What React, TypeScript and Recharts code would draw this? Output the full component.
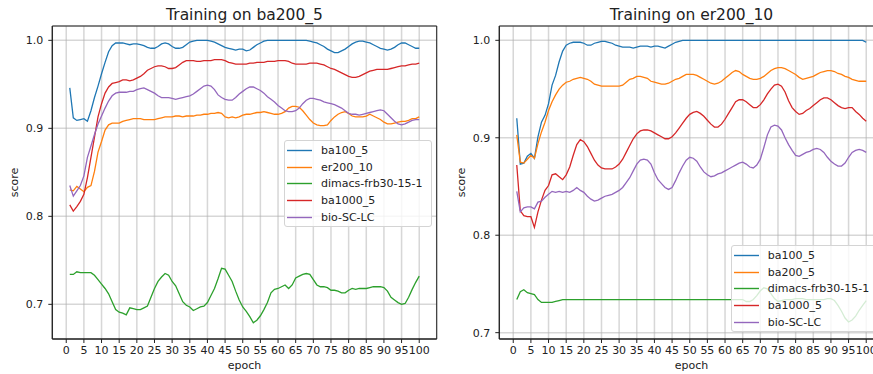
import React from "react";
import { LineChart, Line, XAxis, YAxis, CartesianGrid, Legend, ReferenceArea } from "recharts";

const epochs = Array.from({ length: 100 }, (_, i) => i + 1);
const xTicks = [0, 5, 10, 15, 20, 25, 30, 35, 40, 45, 50, 55, 60, 65, 70, 75, 80, 85, 90, 95, 100];
const yTicks = [0.7, 0.8, 0.9, 1.0];

// Training on ba200_5
const ba200Ba100 = [
  0.946, 0.912, 0.909, 0.910, 0.911, 0.908, 0.920, 0.935, 0.948, 0.962,
  0.975, 0.987, 0.994, 0.997, 0.997, 0.997, 0.996, 0.995, 0.996, 0.996,
  0.995, 0.994, 0.992, 0.991, 0.991, 0.993, 0.996, 0.997, 0.996, 0.993,
  0.991, 0.991, 0.992, 0.995, 0.998, 0.999, 1.0, 1.0, 1.0, 1.0,
  0.999, 0.998, 0.996, 0.994, 0.992, 0.991, 0.990, 0.989, 0.990, 0.990,
  0.988, 0.989, 0.992, 0.995, 0.997, 0.999, 1.0, 1.0, 1.0, 1.0,
  1.0, 1.0, 1.0, 1.0, 1.0, 1.0, 1.0, 1.0, 0.999, 0.998,
  0.997, 0.995, 0.993, 0.990, 0.988, 0.986, 0.986, 0.988, 0.990, 0.993,
  0.996, 0.998, 0.999, 0.999, 0.998, 0.997, 0.995, 0.993, 0.991, 0.990,
  0.989, 0.990, 0.992, 0.995, 0.997, 0.997, 0.995, 0.993, 0.991, 0.991,
];
const ba200Er200 = [
  0.830, 0.829, 0.834, 0.831, 0.828, 0.833, 0.835, 0.851, 0.873, 0.885,
  0.898, 0.904, 0.906, 0.906, 0.906, 0.908, 0.909, 0.910, 0.911, 0.911,
  0.911, 0.910, 0.910, 0.910, 0.910, 0.911, 0.912, 0.913, 0.913, 0.913,
  0.914, 0.914, 0.913, 0.914, 0.914, 0.914, 0.915, 0.915, 0.916, 0.916,
  0.917, 0.917, 0.918, 0.917, 0.913, 0.912, 0.913, 0.912, 0.913, 0.915,
  0.916, 0.916, 0.917, 0.918, 0.918, 0.919, 0.918, 0.917, 0.916, 0.916,
  0.917, 0.919, 0.923, 0.925, 0.925, 0.924, 0.920, 0.915, 0.910, 0.906,
  0.904, 0.903, 0.903, 0.904, 0.909, 0.913, 0.916, 0.918, 0.919, 0.917,
  0.914, 0.913, 0.913, 0.913, 0.914, 0.916, 0.914, 0.912, 0.910, 0.907,
  0.905, 0.905, 0.906, 0.907, 0.908, 0.908, 0.909, 0.911, 0.911, 0.913,
];
const ba200Dimacs = [
  0.734, 0.734, 0.737, 0.736, 0.736, 0.736, 0.736, 0.733, 0.728, 0.723,
  0.718, 0.712, 0.703, 0.694, 0.691, 0.690, 0.688, 0.696, 0.695, 0.694,
  0.694, 0.696, 0.698, 0.708, 0.718, 0.726, 0.731, 0.735, 0.733, 0.726,
  0.721, 0.712, 0.703, 0.699, 0.697, 0.693, 0.695, 0.697, 0.698, 0.702,
  0.710, 0.718, 0.729, 0.741, 0.740, 0.733, 0.726, 0.715, 0.705, 0.697,
  0.692, 0.686, 0.679, 0.682, 0.687, 0.694, 0.702, 0.713, 0.717, 0.718,
  0.720, 0.722, 0.718, 0.722, 0.730, 0.732, 0.734, 0.735, 0.734, 0.728,
  0.722, 0.720, 0.720, 0.719, 0.716, 0.716, 0.715, 0.713, 0.713, 0.716,
  0.718, 0.717, 0.718, 0.718, 0.718, 0.719, 0.720, 0.720, 0.720, 0.719,
  0.715, 0.708, 0.705, 0.702, 0.700, 0.701, 0.708, 0.717, 0.725, 0.732,
];
const ba200Ba1000 = [
  0.813, 0.806, 0.811, 0.817, 0.825, 0.844, 0.867, 0.890, 0.913, 0.928,
  0.940, 0.947, 0.951, 0.952, 0.953, 0.955, 0.955, 0.954, 0.955, 0.957,
  0.959, 0.962, 0.966, 0.968, 0.970, 0.971, 0.971, 0.970, 0.968, 0.968,
  0.969, 0.972, 0.975, 0.977, 0.977, 0.977, 0.976, 0.976, 0.977, 0.977,
  0.977, 0.978, 0.978, 0.978, 0.977, 0.975, 0.974, 0.973, 0.973, 0.973,
  0.973, 0.974, 0.974, 0.975, 0.975, 0.975, 0.976, 0.976, 0.976, 0.977,
  0.977, 0.977, 0.976, 0.974, 0.973, 0.973, 0.973, 0.973, 0.974, 0.974,
  0.974, 0.973, 0.972, 0.970, 0.968, 0.967, 0.965, 0.963, 0.961, 0.959,
  0.958, 0.958, 0.959, 0.961, 0.963, 0.965, 0.966, 0.967, 0.967, 0.967,
  0.967, 0.968, 0.969, 0.970, 0.971, 0.971, 0.972, 0.973, 0.973, 0.974,
];
const ba200Bio = [
  0.835, 0.823, 0.829, 0.835, 0.846, 0.867, 0.880, 0.893, 0.905, 0.914,
  0.923, 0.931, 0.937, 0.940, 0.941, 0.941, 0.941, 0.942, 0.942, 0.944,
  0.945, 0.946, 0.944, 0.942, 0.940, 0.937, 0.935, 0.935, 0.935, 0.934,
  0.933, 0.934, 0.935, 0.936, 0.937, 0.939, 0.942, 0.945, 0.948, 0.949,
  0.948, 0.944, 0.938, 0.935, 0.933, 0.932, 0.932, 0.935, 0.939, 0.942,
  0.945, 0.947, 0.947, 0.945, 0.943, 0.940, 0.936, 0.933, 0.930, 0.926,
  0.923, 0.920, 0.919, 0.919, 0.920, 0.923, 0.928, 0.932, 0.934, 0.934,
  0.933, 0.932, 0.930, 0.929, 0.928, 0.927, 0.925, 0.923, 0.920, 0.917,
  0.916, 0.916, 0.915, 0.916, 0.917, 0.918, 0.919, 0.920, 0.921, 0.920,
  0.916, 0.912, 0.908, 0.905, 0.904, 0.905, 0.907, 0.909, 0.910, 0.910,
];

// Training on er200_10
const er200Ba100 = [
  0.920, 0.873, 0.874, 0.881, 0.884, 0.879, 0.901, 0.916, 0.923, 0.935,
  0.954, 0.964, 0.978, 0.989, 0.995, 0.997, 0.998, 0.998, 0.998, 0.997,
  0.995, 0.995, 0.997, 0.998, 0.999, 0.999, 0.998, 0.997, 0.995, 0.994,
  0.993, 0.993, 0.993, 0.992, 0.993, 0.994, 0.994, 0.994, 0.993, 0.994,
  0.994, 0.993, 0.992, 0.994, 0.996, 0.998, 0.999, 1.0, 1.0, 1.0,
  1.0, 1.0, 1.0, 1.0, 1.0, 1.0, 1.0, 1.0, 1.0, 1.0,
  1.0, 1.0, 1.0, 1.0, 1.0, 1.0, 1.0, 1.0, 1.0, 1.0,
  1.0, 1.0, 1.0, 1.0, 1.0, 1.0, 1.0, 1.0, 1.0, 1.0,
  1.0, 1.0, 1.0, 1.0, 1.0, 1.0, 1.0, 1.0, 1.0, 1.0,
  1.0, 1.0, 1.0, 1.0, 1.0, 1.0, 1.0, 1.0, 1.0, 0.998,
];
const er200Ba200 = [
  0.903, 0.875, 0.874, 0.878, 0.882, 0.879, 0.894, 0.906, 0.916, 0.928,
  0.937, 0.944, 0.950, 0.954, 0.957, 0.958, 0.960, 0.961, 0.962, 0.961,
  0.960, 0.958, 0.955, 0.954, 0.953, 0.953, 0.953, 0.953, 0.953, 0.953,
  0.954, 0.957, 0.960, 0.961, 0.963, 0.963, 0.962, 0.961, 0.958, 0.957,
  0.956, 0.955, 0.955, 0.956, 0.958, 0.960, 0.961, 0.963, 0.965, 0.965,
  0.965, 0.964, 0.962, 0.960, 0.958, 0.956, 0.955, 0.956, 0.958, 0.961,
  0.964, 0.967, 0.969, 0.968, 0.965, 0.963, 0.961, 0.960, 0.960, 0.961,
  0.963, 0.966, 0.969, 0.971, 0.972, 0.972, 0.971, 0.969, 0.967, 0.965,
  0.962, 0.960, 0.961, 0.962, 0.963, 0.965, 0.967, 0.968, 0.969, 0.969,
  0.968, 0.966, 0.965, 0.963, 0.962, 0.960, 0.959, 0.958, 0.958, 0.958,
];
const er200Dimacs = [
  0.734, 0.742, 0.744, 0.741, 0.740, 0.739, 0.734, 0.731, 0.731, 0.731,
  0.731, 0.732, 0.733, 0.734, 0.734, 0.734, 0.734, 0.734, 0.734, 0.734,
  0.734, 0.734, 0.734, 0.734, 0.734, 0.734, 0.734, 0.734, 0.734, 0.734,
  0.734, 0.734, 0.734, 0.734, 0.734, 0.734, 0.734, 0.734, 0.734, 0.734,
  0.734, 0.734, 0.734, 0.734, 0.734, 0.734, 0.734, 0.734, 0.734, 0.734,
  0.734, 0.734, 0.734, 0.734, 0.734, 0.734, 0.734, 0.734, 0.734, 0.734,
  0.734, 0.734, 0.734, 0.734, 0.734, 0.732, 0.732, 0.734, 0.738, 0.743,
  0.746, 0.745, 0.740, 0.735, 0.732, 0.733, 0.734, 0.734, 0.734, 0.735,
  0.735, 0.735, 0.734, 0.734, 0.734, 0.734, 0.734, 0.734, 0.735, 0.735,
  0.733, 0.728, 0.722, 0.715, 0.711, 0.713, 0.717, 0.723, 0.728, 0.733,
];
const er200Ba1000 = [
  0.872, 0.825, 0.820, 0.819, 0.819, 0.808, 0.824, 0.836, 0.846, 0.851,
  0.862, 0.863, 0.860, 0.857, 0.862, 0.870, 0.882, 0.893, 0.898, 0.896,
  0.891, 0.884, 0.877, 0.872, 0.869, 0.868, 0.868, 0.868, 0.870, 0.873,
  0.878, 0.885, 0.892, 0.899, 0.904, 0.907, 0.908, 0.908, 0.907, 0.905,
  0.903, 0.901, 0.899, 0.899, 0.901, 0.905, 0.910, 0.915, 0.920, 0.924,
  0.926, 0.927, 0.925, 0.922, 0.918, 0.914, 0.911, 0.911, 0.914, 0.919,
  0.925, 0.931, 0.937, 0.939, 0.939, 0.937, 0.934, 0.931, 0.931, 0.934,
  0.939, 0.945, 0.950, 0.954, 0.955, 0.953, 0.947, 0.938, 0.931, 0.927,
  0.924, 0.925, 0.928, 0.930, 0.933, 0.936, 0.939, 0.941, 0.941, 0.939,
  0.936, 0.933, 0.931, 0.930, 0.931, 0.931, 0.927, 0.924, 0.920, 0.917,
];
const er200Bio = [
  0.845, 0.824, 0.828, 0.829, 0.829, 0.827, 0.834, 0.835, 0.839, 0.842,
  0.845, 0.844, 0.845, 0.844, 0.845, 0.844, 0.846, 0.849, 0.846, 0.844,
  0.840, 0.837, 0.835, 0.836, 0.838, 0.840, 0.841, 0.842, 0.844, 0.846,
  0.849, 0.854, 0.859, 0.866, 0.873, 0.877, 0.878, 0.877, 0.873, 0.864,
  0.857, 0.853, 0.849, 0.847, 0.849, 0.856, 0.864, 0.871, 0.877, 0.880,
  0.879, 0.876, 0.870, 0.865, 0.862, 0.860, 0.861, 0.863, 0.864, 0.866,
  0.868, 0.870, 0.872, 0.874, 0.875, 0.873, 0.870, 0.869, 0.872, 0.878,
  0.890, 0.903, 0.911, 0.913, 0.912, 0.908, 0.900, 0.893, 0.887, 0.882,
  0.881, 0.883, 0.885, 0.886, 0.888, 0.889, 0.888, 0.885, 0.880, 0.876,
  0.873, 0.871, 0.871, 0.874, 0.880, 0.885, 0.887, 0.888, 0.887, 0.885,
];

const blue = "#1f77b4";
const orange = "#ff7f0e";
const green = "#2ca02c";
const red = "#d62728";
const purple = "#9467bd";

type Series = { name: string; values: number[]; color: string };

const leftSeries: Series[] = [
  { name: "ba100_5", values: ba200Ba100, color: blue },
  { name: "er200_10", values: ba200Er200, color: orange },
  { name: "dimacs-frb30-15-1", values: ba200Dimacs, color: green },
  { name: "ba1000_5", values: ba200Ba1000, color: red },
  { name: "bio-SC-LC", values: ba200Bio, color: purple },
];

const rightSeries: Series[] = [
  { name: "ba100_5", values: er200Ba100, color: blue },
  { name: "ba200_5", values: er200Ba200, color: orange },
  { name: "dimacs-frb30-15-1", values: er200Dimacs, color: green },
  { name: "ba1000_5", values: er200Ba1000, color: red },
  { name: "bio-SC-LC", values: er200Bio, color: purple },
];

const ink = "#222";
const tickStyle = { fontSize: 11, fill: ink };
const xDomain: [number, number] = [-3.95, 104.95];

function LegendBox({ series }: { series: Series[] }) {
  return (
    <div
      style={{
        position: "relative",
        width: 148,
        height: 87,
        boxSizing: "border-box",
        border: "1px solid #d4d4d4",
        borderRadius: 3,
        background: "rgba(255,255,255,0.8)",
      }}
    >
      {series.map((s, k) => {
        const top = Math.round(1 + 16.7 * k);
        return (
          <div key={s.name} style={{ position: "absolute", left: 0, top, height: 17, display: "flex", alignItems: "center" }}>
            <svg width={29} height={17} style={{ display: "block" }}>
              <line x1={2} x2={27} y1={8.5} y2={8.5} stroke={s.color} strokeWidth={1.4} />
            </svg>
            <span style={{ marginLeft: 7, fontSize: 11, color: ink, whiteSpace: "nowrap", lineHeight: "13px" }}>{s.name}</span>
          </div>
        );
      })}
    </div>
  );
}

function Panel({ title, series, yDomain, left, legendTop }: {
  title: string;
  series: Series[];
  yDomain: [number, number];
  left: number;
  legendTop: number;
}) {
  const data = epochs.map((epoch, i) => {
    const row: Record<string, number> = { epoch };
    series.forEach((s) => (row[s.name] = s.values[i]));
    return row;
  });
  const midX = 52.3 + 384.4 / 2;
  const midY = 26 + 313 / 2;

  return (
    <div style={{ position: "absolute", left, top: 0 }}>
      <LineChart width={440} height={374} data={data} margin={{ top: 26, right: 3.3, bottom: 0, left: 0.3 }}>
        <CartesianGrid stroke="#b0b0b0" strokeOpacity={0.5} strokeWidth={1.5} />
        <XAxis
          dataKey="epoch"
          type="number"
          domain={xDomain}
          allowDataOverflow
          ticks={xTicks}
          interval={0}
          height={35}
          tickSize={4}
          tickMargin={3}
          tick={tickStyle}
          axisLine={{ stroke: ink }}
          tickLine={{ stroke: ink }}
          label={() => (
            <g>
              <text x={midX} y={369.3} textAnchor="middle" fontSize={11} fill={ink}>
                epoch
              </text>
              <text x={midX} y={20} textAnchor="middle" fontSize={15.5} fill={ink}>
                {title}
              </text>
            </g>
          )}
        />
        <YAxis
          type="number"
          domain={yDomain}
          allowDataOverflow
          ticks={yTicks}
          interval={0}
          width={52}
          tickSize={4}
          tickMargin={5}
          tick={tickStyle}
          tickFormatter={(v: number) => v.toFixed(1)}
          axisLine={{ stroke: ink }}
          tickLine={{ stroke: ink }}
          label={() => (
            <text x={18.3} y={midY} transform={`rotate(-90, 18.3, ${midY})`} textAnchor="middle" fontSize={11} fill={ink}>
              score
            </text>
          )}
        />
        <ReferenceArea
          x1={xDomain[0]}
          x2={xDomain[1]}
          y1={yDomain[0]}
          y2={yDomain[1]}
          fill="none"
          stroke={ink}
          strokeWidth={1}
          ifOverflow="visible"
        />
        {series.map((s) => (
          <Line
            key={s.name}
            type="linear"
            dataKey={s.name}
            stroke={s.color}
            strokeWidth={1.3}
            dot={false}
            activeDot={false}
            isAnimationActive={false}
          />
        ))}
        <Legend
          layout="vertical"
          align="center"
          verticalAlign="middle"
          wrapperStyle={{ left: 284, top: legendTop, width: 148, height: 87 }}
          content={() => <LegendBox series={series} />}
        />
      </LineChart>
    </div>
  );
}

export default function App() {
  return (
    <div
      style={{
        position: "absolute",
        left: 0,
        top: 0,
        width: 873,
        height: 374,
        overflow: "hidden",
        background: "#fff",
        fontFamily: "'DejaVu Sans', sans-serif",
      }}
    >
      <Panel title="Training on ba200_5" series={leftSeries} yDomain={[0.6606, 1.0163]} left={0} legendTop={140} />
      <Panel title="Training on er200_10" series={rightSeries} yDomain={[0.6935, 1.0147]} left={446.7} legendTop={245} />
    </div>
  );
}
